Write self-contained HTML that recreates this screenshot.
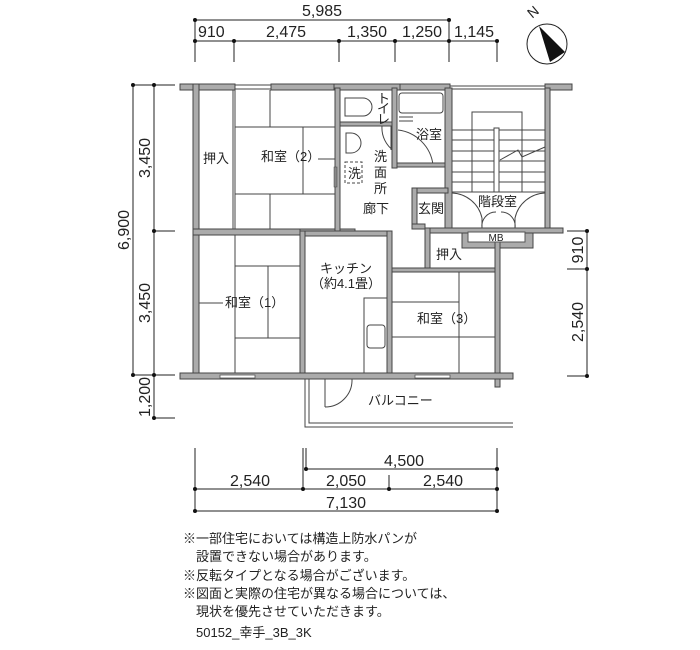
<!DOCTYPE html>
<html><head><meta charset="utf-8"><style>
html,body{margin:0;padding:0;background:#fff;}
svg{display:block;}
text{font-family:"Liberation Sans","Noto Sans CJK JP",sans-serif;fill:#222;}
.w{fill:#ababab;stroke:#444;stroke-width:1;}
.l{stroke:#444;stroke-width:1;fill:none;}
.d{stroke:#222;stroke-width:1;fill:none;}
.dim{font-size:16px;}
.rm{font-size:13px;}
.n{font-size:13px;}
</style></head><body>
<svg width="700" height="650" viewBox="0 0 700 650" xmlns="http://www.w3.org/2000/svg">
<g class="d">
<line x1="195" y1="20" x2="449" y2="20"/>
<line x1="195" y1="41" x2="497" y2="41"/>
<line x1="195" y1="20" x2="195" y2="62"/>
<line x1="234" y1="41" x2="234" y2="62"/>
<line x1="339" y1="41" x2="339" y2="62"/>
<line x1="395" y1="41" x2="395" y2="62"/>
<line x1="449" y1="20" x2="449" y2="62"/>
<line x1="497" y1="41" x2="497" y2="62"/>
</g>
<g fill="#111">
<circle cx="195" cy="20" r="2"/><circle cx="449" cy="20" r="2"/>
<circle cx="195" cy="41" r="2"/><circle cx="234" cy="41" r="2"/><circle cx="339" cy="41" r="2"/><circle cx="395" cy="41" r="2"/><circle cx="449" cy="41" r="2"/><circle cx="497" cy="41" r="2"/>
</g>
<text class="dim" x="322" y="16" text-anchor="middle">5,985</text>
<text class="dim" x="198" y="37">910</text>
<text class="dim" x="286" y="37" text-anchor="middle">2,475</text>
<text class="dim" x="367" y="37" text-anchor="middle">1,350</text>
<text class="dim" x="422" y="37" text-anchor="middle">1,250</text>
<text class="dim" x="474" y="37" text-anchor="middle">1,145</text>
<circle cx="547" cy="44" r="20" fill="#fff" stroke="#222" stroke-width="1"/>
<polygon points="539,26 565,52 550,62" fill="#111"/>
<text x="529" y="20" font-size="14" transform="rotate(-40 529 15)">N</text>
<g class="d">
<line x1="133" y1="85" x2="133" y2="375"/>
<line x1="154" y1="85" x2="154" y2="418"/>
<line x1="133" y1="85" x2="175" y2="85"/>
<line x1="154" y1="231" x2="175" y2="231"/>
<line x1="133" y1="375" x2="175" y2="375"/>
<line x1="154" y1="418" x2="175" y2="418"/>
</g>
<g fill="#111"><circle cx="133" cy="85" r="2"/><circle cx="154" cy="85" r="2"/><circle cx="154" cy="231" r="2"/><circle cx="133" cy="375" r="2"/><circle cx="154" cy="375" r="2"/><circle cx="154" cy="418" r="2"/></g>
<text class="dim" transform="translate(129 230) rotate(-90)" text-anchor="middle">6,900</text>
<text class="dim" transform="translate(150 158) rotate(-90)" text-anchor="middle">3,450</text>
<text class="dim" transform="translate(150 303) rotate(-90)" text-anchor="middle">3,450</text>
<text class="dim" transform="translate(150 397) rotate(-90)" text-anchor="middle">1,200</text>
<g class="d">
<line x1="587" y1="231" x2="587" y2="376"/>
<line x1="567" y1="231" x2="587" y2="231"/>
<line x1="567" y1="269" x2="587" y2="269"/>
<line x1="567" y1="376" x2="587" y2="376"/>
</g>
<g fill="#111"><circle cx="587" cy="231" r="2"/><circle cx="587" cy="269" r="2"/><circle cx="587" cy="376" r="2"/></g>
<text class="dim" transform="translate(583 250) rotate(-90)" text-anchor="middle">910</text>
<text class="dim" transform="translate(583 322) rotate(-90)" text-anchor="middle">2,540</text>
<g class="d">
<line x1="306" y1="469" x2="497" y2="469"/>
<line x1="195" y1="489" x2="497" y2="489"/>
<line x1="195" y1="511" x2="497" y2="511"/>
<line x1="195" y1="448" x2="195" y2="511"/>
<line x1="303" y1="448" x2="303" y2="489"/>
<line x1="306" y1="448" x2="306" y2="469"/>
<line x1="389" y1="475" x2="389" y2="489"/>
<line x1="497" y1="448" x2="497" y2="511"/>
</g>
<g fill="#111"><circle cx="306" cy="469" r="2"/><circle cx="497" cy="469" r="2"/><circle cx="195" cy="489" r="2"/><circle cx="303" cy="489" r="2"/><circle cx="389" cy="489" r="2"/><circle cx="497" cy="489" r="2"/><circle cx="195" cy="511" r="2"/><circle cx="497" cy="511" r="2"/></g>
<text class="dim" x="404" y="466" text-anchor="middle">4,500</text>
<text class="dim" x="250" y="486" text-anchor="middle">2,540</text>
<text class="dim" x="346" y="486" text-anchor="middle">2,050</text>
<text class="dim" x="443" y="486" text-anchor="middle">2,540</text>
<text class="dim" x="346" y="508" text-anchor="middle">7,130</text>

<g class="l">
<line x1="233" y1="90" x2="233" y2="230"/><line x1="235" y1="90" x2="235" y2="230"/>
<line x1="235" y1="127" x2="335" y2="127"/>
<line x1="235" y1="194" x2="335" y2="194"/>
<line x1="270" y1="90" x2="270" y2="127"/>
<line x1="303" y1="127" x2="303" y2="194"/>
<line x1="270" y1="194" x2="270" y2="230"/>
<line x1="318" y1="159" x2="335" y2="159"/>
<line x1="235" y1="235" x2="235" y2="373"/>
<line x1="235" y1="266" x2="300" y2="266"/>
<line x1="235" y1="338" x2="300" y2="338"/>
<line x1="268" y1="266" x2="268" y2="338"/>
<line x1="199" y1="303" x2="223" y2="303"/>
<line x1="459" y1="272" x2="459" y2="373"/>
<line x1="392" y1="302" x2="459" y2="302"/>
<line x1="392" y1="337" x2="500" y2="337"/>
<rect x="364" y="298" width="23" height="75"/>
<rect x="367" y="325" width="18" height="23" rx="3"/>
<path d="M345 98 h18 a9 9 0 0 1 0 18 h-18 z"/>
<path d="M382 126 a28 28 0 0 0 12 25"/>
<line x1="391" y1="126" x2="391" y2="150"/>
<path d="M346 133 h5 a10 10 0 0 1 0 20 h-5 z"/>
<rect x="345" y="162" width="17" height="21" stroke-dasharray="3,2"/>
<rect x="399" y="93" width="44" height="20" rx="3"/>
<line x1="399" y1="117" x2="413" y2="117"/>
<line x1="399" y1="121" x2="413" y2="121"/>
<path d="M398 130 a40 40 0 0 1 35 35"/>
<line x1="452" y1="130" x2="545" y2="130"/>
<line x1="452" y1="140" x2="545" y2="140"/>
<line x1="452" y1="151" x2="545" y2="151"/>
<line x1="452" y1="161" x2="545" y2="161"/>
<line x1="452" y1="172" x2="545" y2="172"/>
<line x1="452" y1="182" x2="545" y2="182"/>
<polyline points="472,192 472,112 522,112 522,192"/>
<rect x="494" y="128" width="5" height="64" fill="#fff"/>
<polyline points="500,160 518,150 522,157 545,147"/>
<line x1="452" y1="192" x2="545" y2="192"/>
<path d="M452 193 a32 32 0 0 1 30 25 v10"/>
<path d="M545 193 a32 32 0 0 0 -30 25 v10"/>
<path d="M482 228 a14 14 0 0 1 14 -16"/>
<path d="M515 228 a14 14 0 0 0 -14 -16"/>
<polyline points="305,379 305,427 513,427"/>
<polyline points="309,379 309,423 513,423"/>
<line x1="325" y1="379" x2="325" y2="407"/>
<path d="M325 407 a27 27 0 0 0 27 -28"/>
<line x1="312" y1="236" x2="350" y2="236" stroke-dasharray="2,2"/>
</g>

<g class="w">
<rect x="180" y="84" width="55" height="6"/>
<rect x="235" y="85" width="36" height="4" fill="#fff"/>
<rect x="271" y="84" width="63" height="6"/>
<rect x="334" y="84" width="66" height="6"/>
<rect x="400" y="84" width="50" height="6"/>
<rect x="450" y="86" width="95" height="3" fill="#fff"/>
<rect x="545" y="84" width="27" height="6"/>
<rect x="193" y="84" width="6" height="295"/>
<rect x="193" y="229" width="110" height="6"/>
<rect x="300" y="229" width="55" height="6"/>
<rect x="300" y="231" width="92" height="5"/>
<rect x="300" y="231" width="5" height="147"/>
<rect x="335" y="88" width="5" height="143"/>
<rect x="340" y="122" width="52" height="4"/>
<rect x="392" y="88" width="5" height="80"/>
<rect x="397" y="163" width="50" height="4"/>
<rect x="445" y="88" width="7" height="140"/>
<rect x="545" y="88" width="5" height="140"/>
<rect x="387" y="231" width="5" height="147"/>
<rect x="412" y="188" width="36" height="5"/>
<rect x="412" y="188" width="5" height="40"/>
<rect x="412" y="224" width="13" height="5"/>
<rect x="425" y="228" width="138" height="5"/>
<rect x="425" y="228" width="5" height="42"/>
<rect x="462" y="233" width="71" height="15"/>
<rect x="392" y="268" width="108" height="4"/>
<rect x="495" y="233" width="5" height="154"/>
<rect x="180" y="373" width="333" height="6"/>
</g>
<rect x="334" y="167" width="3" height="20" fill="#888" stroke="#444" stroke-width="0.5"/>
<rect x="468" y="232" width="57" height="10" fill="#fff" stroke="#555"/>
<text x="496" y="241" font-size="10" text-anchor="middle">MB</text>
<g fill="#fff" stroke="#555" stroke-width="0.8">
<rect x="220" y="375" width="35" height="3"/>
<rect x="415" y="375" width="35" height="3"/>
</g>

<text class="rm" x="203" y="163">押入</text>
<text class="rm" x="261" y="161">和室（2）</text>
<text class="rm" x="377" y="103" font-size="11">ト</text>
<text class="rm" x="377" y="113" font-size="11">イ</text>
<text class="rm" x="377" y="124" font-size="11">レ</text>
<text class="rm" x="416" y="139">浴室</text>
<text class="rm" x="374" y="161">洗</text>
<text class="rm" x="374" y="177">面</text>
<text class="rm" x="374" y="193">所</text>
<text class="rm" x="348" y="178">洗</text>
<text class="rm" x="363" y="213">廊下</text>
<text class="rm" x="418" y="213">玄関</text>
<text class="rm" x="478" y="206">階段室</text>
<text class="rm" x="436" y="259">押入</text>
<text class="rm" x="346" y="273" text-anchor="middle">キッチン</text>
<text class="rm" x="346" y="288" text-anchor="middle">（約4.1畳）</text>
<text class="rm" x="225" y="307">和室（1）</text>
<text class="rm" x="417" y="323">和室（3）</text>
<text class="rm" x="368" y="405">バルコニー</text>

<text class="n" x="183" y="543">※一部住宅においては構造上防水パンが</text>
<text class="n" x="196" y="561">設置できない場合があります。</text>
<text class="n" x="183" y="580">※反転タイプとなる場合がございます。</text>
<text class="n" x="183" y="598">※図面と実際の住宅が異なる場合については、</text>
<text class="n" x="196" y="616">現状を優先させていただきます。</text>
<text class="n" x="196" y="637" font-size="12">50152_幸手_3B_3K</text>
</svg>
</body></html>
